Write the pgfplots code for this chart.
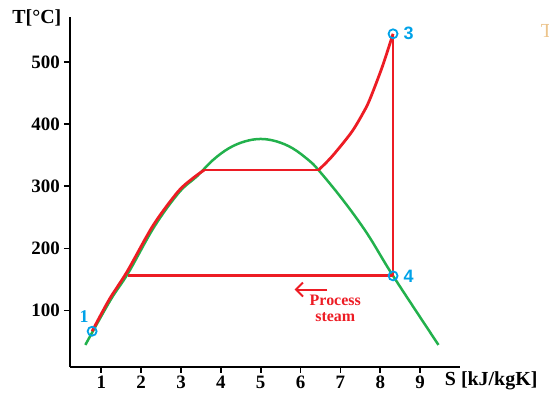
\documentclass[border=0pt]{standalone}
\usepackage{pgfplots}
\pgfplotsset{compat=1.18}
\usepackage{fontspec}
\setmainfont{Liberation Serif}
\newfontfamily\sansfont{Liberation Sans}
\usetikzlibrary{arrows.meta}
\definecolor{pred}{RGB}{237,28,36}
\definecolor{pgreen}{RGB}{34,177,76}
\definecolor{pblue}{RGB}{0,162,232}
\definecolor{ptan}{RGB}{236,196,140}
\begin{document}
\begin{tikzpicture}
\path[use as bounding box] (-70bp,-29.3bp) rectangle (479bp,366.7bp);
\begin{axis}[
  at={(0,0)}, anchor=south west,
  scale only axis, width=390bp, height=349.7bp,
  xmin=0.215, xmax=10.0, ymin=10, ymax=572,
  axis x line=bottom, axis y line=left,
  axis line style={line width=2bp, -},
  tick align=outside, major tick length=6bp,
  tick style={line width=1.6bp, black},
  xtick={1,2,...,9}, ytick={100,200,300,400,500},
  /pgf/number format/assume math mode=true,
  tick label style={font=\bfseries\fontsize{19}{19}\selectfont},
  xticklabel style={inner sep=3bp},
  yticklabel style={inner sep=4bp},
  clip=false,
  xlabel={S [kJ/kgK]}, ylabel={T[°C]},
  every axis x label/.style={at={(rel axis cs:1.08,-0.041)}, anchor=center, font=\bfseries\fontsize{20}{20}\selectfont},
  every axis y label/.style={at={(rel axis cs:-0.085,0.997)}, anchor=center, font=\bfseries\fontsize{20}{20}\selectfont},
]
% saturation dome
\addplot[pgreen, line width=2.5bp, smooth, tension=0.6] coordinates {
 (0.60,45) (1.23,117) (1.68,161) (2.33,235) (2.95,290) (3.40,316) (3.80,342) (4.20,361) (4.60,372)
 (5.00,376) (5.40,372) (5.80,361) (6.20,342) (6.45,326) (7.05,279) (7.67,224) (8.32,156) (9.46,45)};
% pump + heating to saturation
\addplot[pred, line width=2.8bp, smooth, tension=0.5] coordinates {
 (0.77,67) (1.20,118) (1.65,163) (2.30,237) (2.92,291) (3.30,313) (3.58,326)};
% evaporation
\addplot[pred, line width=2.8bp] coordinates {(3.58,326) (6.45,326)};
% superheating
\addplot[pred, line width=2.8bp, smooth, tension=0.5] coordinates {
 (6.45,326) (6.79,348) (7.28,387) (7.58,419) (7.74,440) (8.05,492) (8.32,545)};
% expansion
\addplot[pred, line width=2.8bp] coordinates {(8.32,545) (8.32,156)};
% condensation (process steam)
\addplot[pred, line width=2.8bp] coordinates {(8.32,156) (1.68,156)};
% arrow
\addplot[pred, line width=2bp, -{Straight Barb[length=7bp,width=14bp]}] coordinates {(6.67,134) (5.85,134)};
% state points
\addplot[only marks, mark=o, mark size=4.5bp, pblue, mark options={line width=1.8bp}] coordinates {(0.77,67) (8.32,545) (8.32,156)};
\node[pblue, font=\bfseries\fontsize{18}{18}\selectfont] at (axis cs:0.566,90) {1};
\node[pblue, font=\sansfont\bfseries\fontsize{18}{18}\selectfont] at (axis cs:8.71,545) {3};
\node[pblue, font=\sansfont\bfseries\fontsize{18}{18}\selectfont] at (axis cs:8.71,156) {4};
\node[pred, inner sep=0pt, font=\bfseries\fontsize{16}{16}\selectfont] at (axis cs:6.87,116) {Process};
\node[pred, inner sep=0pt, font=\bfseries\fontsize{16}{16}\selectfont] at (axis cs:6.87,90.5) {steam};
\node[ptan, font=\fontsize{20}{20}\selectfont] at (axis cs:12.18,549) {T};
\end{axis}
\end{tikzpicture}
\end{document}
